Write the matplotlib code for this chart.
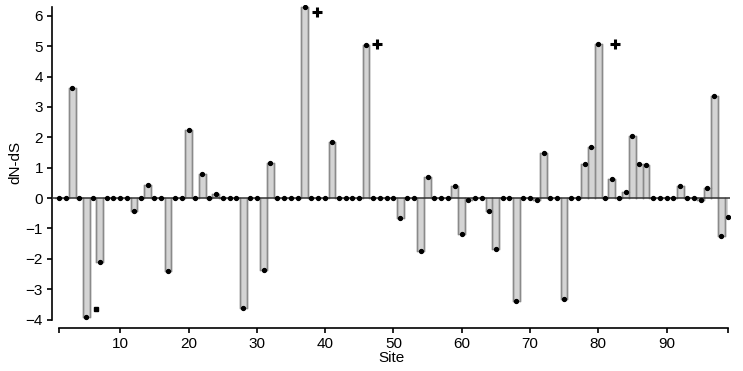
import numpy as np
import matplotlib
matplotlib.use("Agg")
import matplotlib.pyplot as plt

plt.rcParams['font.family'] = ['Liberation Sans', 'DejaVu Sans']

sites = list(range(1, 100))
dnds = [0, 0, 3.62, 0, -3.92, 0, -2.11, 0, 0, 0,
        0, -0.42, 0, 0.43, 0, 0, -2.39, 0, 0, 2.24,
        0, 0.79, 0, 0.14, 0, 0, 0, -3.61, 0, 0,
        -2.37, 1.14, 0, 0, 0, 0, 6.28, 0, 0, 0,
        1.85, 0, 0, 0, 0, 5.04, 0, 0, 0, 0,
        -0.65, 0, 0, -1.75, 0.70, 0, 0, 0, 0.41, -1.20,
        -0.07, 0, 0, -0.42, -1.68, 0, 0, -3.39, 0, 0,
        -0.06, 1.47, 0, 0, -3.31, 0, 0, 1.12, 1.69, 5.06,
        0, 0.62, 0, 0.19, 2.05, 1.12, 1.09, 0, 0, 0,
        0, 0.41, 0, 0, -0.05, 0.32, 3.36, -1.25, -0.64]

plus_x = [38.8, 47.6, 82.5]
plus_y = [6.12, 5.06, 5.06]
square_x = [6.5]
square_y = [-3.65]

xticks = [1, 10, 20, 30, 40, 50, 60, 70, 80, 90, 99]
xticklabels = ['', '10', '20', '30', '40', '50', '60', '70', '80', '90', '']
yticks = [-4, -3, -2, -1, 0, 1, 2, 3, 4, 5, 6]

W, H = 743, 371
fig = plt.figure(figsize=(W / 100, H / 100), dpi=100)
left_px, right_px = 52, 730
top_px, bot_px = 5.3, 319.5
ax = fig.add_axes([left_px / W, 1 - bot_px / H, (right_px - left_px) / W, (bot_px - top_px) / H])

x = np.array(sites, dtype=float)
y = np.array(dnds, dtype=float)

ax.fill_between(x, 0, y, step='mid', facecolor='#d4d4d4', edgecolor='none', zorder=1)
# step outline
xs = np.concatenate([[x[0] - 0.5], np.repeat(x[:-1] + 0.5, 2), [x[-1] + 0.5]])
ys = np.repeat(y, 2)
ax.plot(xs, ys, color='#8a8a8a', lw=1.0, zorder=2)
for xi, yi in zip(x, y):
    if yi != 0:
        ax.plot([xi - 0.5, xi - 0.5], [0, yi], color='#8a8a8a', lw=1.0, zorder=2)
        ax.plot([xi + 0.5, xi + 0.5], [0, yi], color='#8a8a8a', lw=1.0, zorder=2)

ax.axhline(0, color='#333333', lw=1.1, zorder=3)
ax.plot(x, y, linestyle='none', marker='o', ms=2.8, color='black', zorder=4)

ax.plot(plus_x, plus_y, linestyle='none', marker='+', ms=7, mew=2.2, color='black', zorder=5)
ax.plot(square_x, square_y, linestyle='none', marker='s', ms=3.5, color='black', zorder=5)

ax.set_xlim(0, 99.3)
ax.set_ylim(-4, 6.35)

for s in ['top', 'right']:
    ax.spines[s].set_visible(False)
ax.spines['left'].set_bounds(-4, 6.3)
ax.spines['bottom'].set_position(('outward', 6))
ax.spines['bottom'].set_bounds(1, 99)
ax.spines['left'].set_linewidth(1.2)
ax.spines['bottom'].set_linewidth(1.2)

ax.set_xticks(xticks)
ax.set_xticklabels(xticklabels)
ax.set_yticks(yticks)
ax.tick_params(axis='both', direction='out', length=3.5, width=1.2, labelsize=11, pad=3)

ax.set_ylabel('dN-dS', fontsize=11, labelpad=2)
ax.set_xlabel('Site', fontsize=11, labelpad=0)

fig.savefig('out.png', dpi=100)
